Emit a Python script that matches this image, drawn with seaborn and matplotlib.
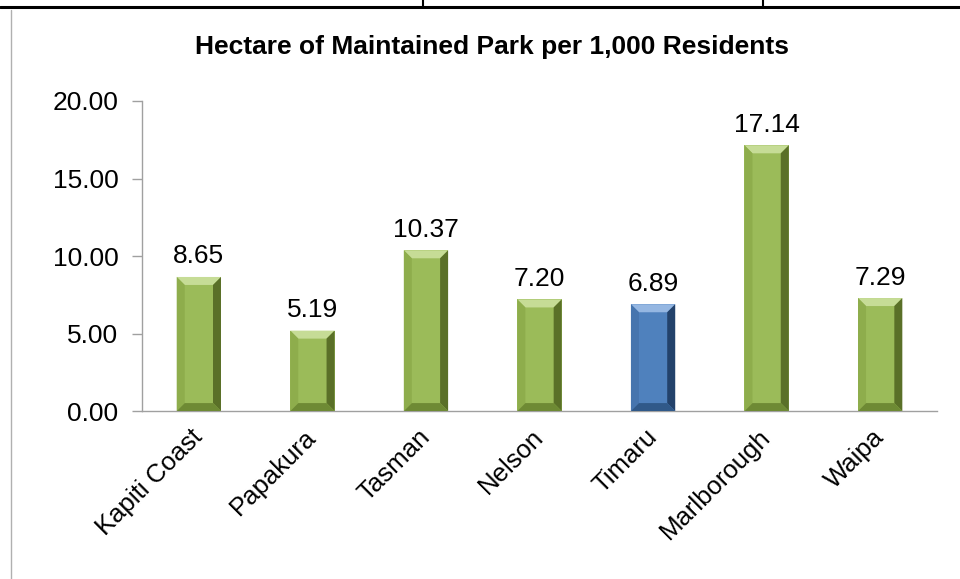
import numpy as np
import pandas as pd
import seaborn as sns
import matplotlib.pyplot as plt
import matplotlib.transforms as mtransforms
from matplotlib.patches import Polygon
from matplotlib.lines import Line2D

councils = ['Kapiti Coast', 'Papakura', 'Tasman', 'Nelson', 'Timaru', 'Marlborough', 'Waipa']
hectares = [8.65, 5.19, 10.37, 7.20, 6.89, 17.14, 7.29]
highlight = 'Timaru'

green = '#9BBB59'
blue = '#4F81BD'
shades = {
    green: ('#C6DC96', '#8EAD4C', '#5A7028', '#6E8A34'),
    blue: ('#95B7E2', '#4675AE', '#23426B', '#305989'),
}

sns.set_style('white')
plt.rcParams['font.family'] = ['Liberation Sans', 'DejaVu Sans']
plt.rcParams['text.color'] = 'black'
plt.rcParams['xtick.color'] = 'black'
plt.rcParams['ytick.color'] = 'black'

df = pd.DataFrame({'council': councils, 'ha': hectares})
palette = {c: (blue if c == highlight else green) for c in councils}

fig = plt.figure(figsize=(9.6, 5.79), dpi=100)
ax = fig.add_axes([0.148, 0.29, 0.828, 0.5356])

sns.barplot(data=df, x='council', y='ha', hue='council', palette=palette,
            width=0.39, legend=False, ax=ax, linewidth=0, saturation=1)

ax.set_ylim(0, 20)
ax.set_xlim(-0.5, len(councils) - 0.5)
ax.set_yticks(np.arange(0, 21, 5))
ax.set_yticklabels([f'{v:.2f}' for v in np.arange(0, 21, 5)], fontsize=19)
ax.set_xlabel('')
ax.set_ylabel('')

# bevel effect on each bar, using the patches seaborn drew
inv = ax.transData.inverted()
p0 = inv.transform((0, 0))
p1 = inv.transform((8, 8))
bx, by = p1[0] - p0[0], p1[1] - p0[1]
for patch, c in zip(ax.patches, councils):
    x0, y0 = patch.get_x(), patch.get_y()
    w, h = patch.get_width(), patch.get_height()
    face = palette[c]
    top, left, right, bottom = shades[face]
    x1, y1 = x0 + w, y0 + h
    polys = [
        ([(x0, y1), (x1, y1), (x1 - bx, y1 - by), (x0 + bx, y1 - by)], top),
        ([(x0, y0), (x0, y1), (x0 + bx, y1 - by), (x0 + bx, y0 + by)], left),
        ([(x1, y0), (x1, y1), (x1 - bx, y1 - by), (x1 - bx, y0 + by)], right),
        ([(x0, y0), (x1, y0), (x1 - bx, y0 + by), (x0 + bx, y0 + by)], bottom),
    ]
    for pts, col in polys:
        ax.add_patch(Polygon(pts, closed=True, facecolor=col, edgecolor='none', zorder=3))
    ax.text(x0 + w / 2, y1 + 0.55, f'{h:.2f}', ha='center', va='bottom', fontsize=19, color='black')

ax.set_xticks(range(len(councils)))
ax.set_xticklabels(councils, rotation=45, ha='right', va='center', rotation_mode='anchor', fontsize=18.5)
shift = mtransforms.ScaledTranslation(-2 / 100, 0, fig.dpi_scale_trans)
for lbl in ax.get_xticklabels():
    lbl.set_transform(lbl.get_transform() + shift)
ax.set_xticks(np.arange(-0.5, len(councils), 1), minor=True)
ax.tick_params(axis='x', which='major', length=0, pad=16)
ax.tick_params(axis='x', which='minor', length=7, color='#A0A0A0', width=1, direction='out')
ax.tick_params(axis='y', length=7, color='#A0A0A0', labelcolor='black', width=1, direction='out', pad=10, left=True)

for s in ['top', 'right']:
    ax.spines[s].set_visible(False)
for s in ['left', 'bottom']:
    ax.spines[s].set_color('#A0A0A0')
    ax.spines[s].set_linewidth(1)

fig.text(0.513, 0.918, 'Hectare of Maintained Park per 1,000 Residents',
         ha='center', va='center', fontsize=19, fontweight='bold', color='black')

# page border lines around the chart
fig.add_artist(Line2D([0, 1], [1 - 7 / 579] * 2, color='black', lw=2.2))
fig.add_artist(Line2D([423 / 960] * 2, [1, 1 - 7 / 579], color='black', lw=1.5))
fig.add_artist(Line2D([763 / 960] * 2, [1, 1 - 7 / 579], color='black', lw=1.5))
fig.add_artist(Line2D([11 / 960] * 2, [0, 1 - 10 / 579], color='#B0B0B0', lw=1))

fig.savefig('out.png', dpi=100)
